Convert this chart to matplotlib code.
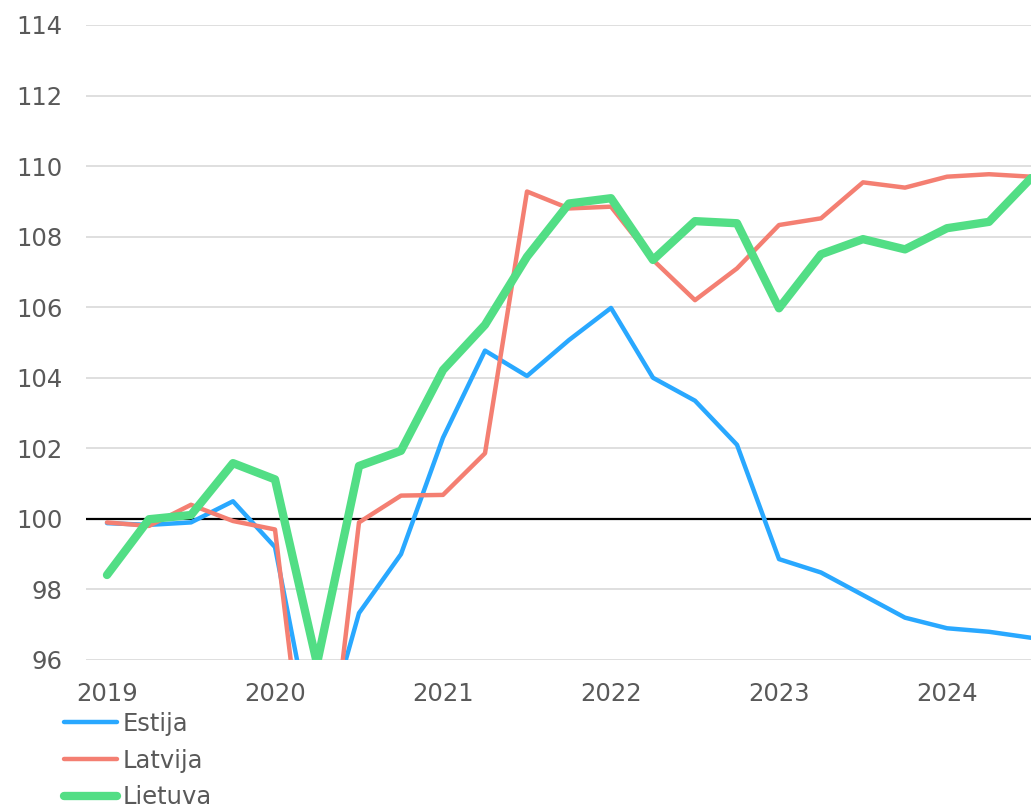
import numpy as np
import matplotlib.pyplot as plt

# quarterly index, 2019Q1 .. 2024Q3
years = ['2019', '2020', '2021', '2022', '2023', '2024']
estija = [99.88, 99.83, 99.9, 100.5, 99.2, 93.1, 97.33, 99.0, 102.3, 104.77, 104.05, 105.07,
          105.98, 104.0, 103.35, 102.1, 98.86, 98.48, 97.84, 97.2, 96.9, 96.8, 96.63]
latvija = [99.9, 99.8, 100.4, 99.94, 99.7, 89.8, 99.9, 100.66, 100.68, 101.86, 109.28, 108.8,
           108.85, 107.34, 106.2, 107.1, 108.33, 108.52, 109.54, 109.39, 109.7, 109.77, 109.7]
lietuva = [98.41, 99.99, 100.11, 101.58, 101.12, 95.9, 101.5, 101.93, 104.22, 105.5, 107.43, 108.94,
           109.09, 107.34, 108.44, 108.38, 105.97, 107.5, 107.93, 107.64, 108.24, 108.42, 109.66]

grey = '#595959'
fs = 17.5
fig = plt.figure(figsize=(10.31, 8.10), dpi=100)
ax = fig.add_axes([86/1031, 1-660/810, 1-86/1031, 635/810])

x = np.arange(len(estija))
ax.plot(x, estija, color='#29A8FF', lw=3.2, label='Estija', solid_capstyle='round', zorder=3)
ax.plot(x, latvija, color='#F47F72', lw=3.2, label='Latvija', solid_capstyle='round', zorder=3)
ax.plot(x, lietuva, color='#52DE85', lw=6, label='Lietuva', solid_capstyle='round', zorder=4)

ax.axhline(100, color='black', lw=1.6, zorder=2)
ax.set_ylim(96, 114)
ax.set_xlim(-0.5, 22)
ax.set_yticks(np.arange(96, 115, 2))
ax.set_xticks(np.arange(0, 24, 4))
ax.set_xticklabels(years)
ax.grid(axis='y', color='#d9d9d9', lw=1.2, zorder=0)
ax.set_axisbelow(True)
for s in ax.spines.values():
    s.set_visible(False)
ax.tick_params(length=0, labelsize=fs, colors=grey)
ax.tick_params(axis='x', pad=16)
ax.tick_params(axis='y', pad=17)

leg = fig.legend(loc='upper left', bbox_to_anchor=(64/1031, 1-712/810), frameon=False,
                 fontsize=fs, handlelength=2.2, handletextpad=0.2, labelspacing=0.52,
                 borderpad=0, borderaxespad=0)
for t in leg.get_texts():
    t.set_color(grey)

fig.savefig('out.png', dpi=100)
